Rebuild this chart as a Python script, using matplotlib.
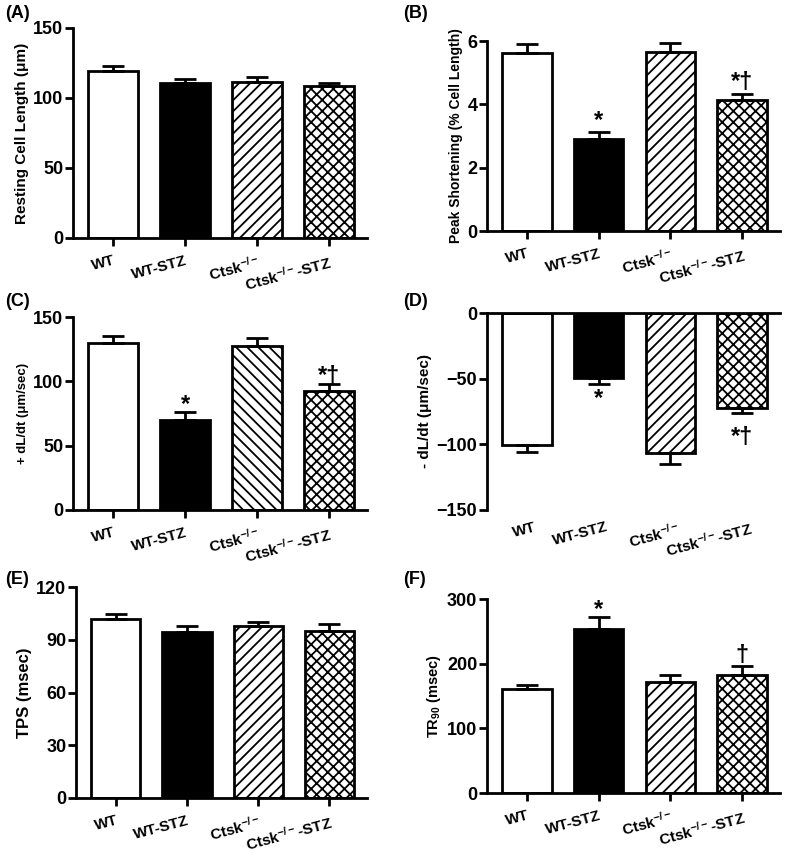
import numpy as np
from matplotlib import pyplot as plt

groups = ["WT", "WT-STZ", r"Ctsk$^{-/-}$", r"Ctsk$^{-/-}$-STZ"]

rest_len = [119.5, 110.5, 111.5, 108.5]
rest_len_err = [3.5, 3.0, 3.2, 2.3]

peak_short = [5.63, 2.92, 5.66, 4.15]
peak_short_err = [0.29, 0.21, 0.28, 0.19]

plus_dldt = [129.8, 69.7, 127.3, 92.2]
plus_dldt_err = [5.4, 6.2, 6.7, 5.4]

minus_dldt = [-100.4, -49.6, -106.3, -72.5]
minus_dldt_err = [5.6, 4.8, 8.4, 3.8]

tps = [101.8, 94.6, 97.6, 95.2]
tps_err = [2.9, 3.2, 2.5, 3.5]

tr90 = [161.5, 254.0, 172.3, 183.0]
tr90_err = [5.7, 17.6, 10.7, 13.5]

plt.rcParams["font.family"] = ["Liberation Sans", "DejaVu Sans"]
plt.rcParams["font.weight"] = "bold"
plt.rcParams["mathtext.default"] = "regular"
plt.rcParams["hatch.linewidth"] = 1.3

W, H = 787, 856


def make_axes(fig, left, right, top, bottom):
    return fig.add_axes([left / W, 1 - bottom / H, (right - left) / W, (bottom - top) / H])


def draw_panel(ax, vals, errs, ylim, yticks, ylabel, ylsize, slash="///", neg=False):
    x = np.arange(len(vals))
    fills = ["white", "black", "white", "white"]
    hatches = [None, None, slash, "xxx"]
    for i in range(len(vals)):
        ax.bar(x[i], vals[i], width=0.69, color=fills[i], edgecolor="black",
               linewidth=2, hatch=hatches[i], zorder=2)
        if neg:
            yerr = [[errs[i]], [0]]
        else:
            yerr = [[0], [errs[i]]]
        ax.errorbar(x[i], vals[i], yerr=yerr, fmt="none", ecolor="black",
                    elinewidth=2, capsize=8, capthick=2, zorder=3)
    ax.set_xlim(-0.56, 3.53)
    ax.set_ylim(*ylim)
    ax.set_yticks(yticks)
    ax.spines["top"].set_visible(False)
    ax.spines["right"].set_visible(False)
    ax.spines["left"].set_linewidth(2)
    ax.spines["bottom"].set_linewidth(2)
    ax.tick_params(width=2, length=6, labelsize=13, direction="out")
    ax.tick_params(axis="y", pad=1)
    for lab in ax.get_yticklabels():
        lab.set_fontweight("bold")
    ax.set_ylabel(ylabel, fontsize=ylsize, fontweight="bold", labelpad=3)
    ax.set_xticks(x)
    if neg:
        ax.spines["bottom"].set_position(("data", 0))
        ax.set_xticklabels([])
        for i, g in enumerate(groups):
            ax.text(x[i] + 0.1, -0.05, g, transform=ax.get_xaxis_transform(),
                    rotation=15, rotation_mode="anchor", ha="right", va="top",
                    fontsize=11, fontweight="bold")
    else:
        ax.set_xticklabels(groups, rotation=15, rotation_mode="anchor",
                           ha="right", va="top", fontsize=11, fontweight="bold")
        ax.tick_params(axis="x", pad=5)


def mark(ax, i, y, s):
    ax.text(i, y, s, ha="center", va="center", fontsize=17, fontweight="bold")


fig = plt.figure(figsize=(W / 100, H / 100), dpi=100)

axA = make_axes(fig, 73, 367, 28, 238)
draw_panel(axA, rest_len, rest_len_err, (0, 150), [0, 50, 100, 150],
           "Resting Cell Length (μm)", 11)

axB = make_axes(fig, 487, 780, 41, 231)
draw_panel(axB, peak_short, peak_short_err, (0, 6), [0, 2, 4, 6],
           "Peak Shortening (% Cell Length)", 10)
mark(axB, 1, 3.48, "*")
mark(axB, 3, 4.7, "*†")

axC = make_axes(fig, 73, 367, 317, 510)
draw_panel(axC, plus_dldt, plus_dldt_err, (0, 150), [0, 50, 100, 150],
           "+ dL/dt (μm/sec)", 9.5, slash="\\\\\\")
mark(axC, 1, 82, "*")
mark(axC, 3, 104, "*†")

axD = make_axes(fig, 487, 780, 313, 510)
draw_panel(axD, minus_dldt, minus_dldt_err, (-150, 0), [-150, -100, -50, 0],
           "- dL/dt (μm/sec)", 11, neg=True)
mark(axD, 1, -65, "*")
mark(axD, 3, -95, "*†")

axE = make_axes(fig, 76, 367, 587, 798)
draw_panel(axE, tps, tps_err, (0, 120), [0, 30, 60, 90, 120], "TPS (msec)", 12)

axF = make_axes(fig, 487, 780, 599, 793)
draw_panel(axF, tr90, tr90_err, (0, 300), [0, 100, 200, 300],
           r"TR$_{90}$ (msec)", 10.5)
mark(axF, 1, 284, "*")
mark(axF, 3, 212, "†")

for lab, (px, py) in zip(["(A)", "(B)", "(C)", "(D)", "(E)", "(F)"],
                         [(5, 14), (403, 14), (5, 302), (403, 302), (5, 580), (403, 580)]):
    fig.text(px / W, 1 - py / H, lab, fontsize=13, fontweight="bold",
             ha="left", va="center")

fig.savefig("out.png", dpi=100)
